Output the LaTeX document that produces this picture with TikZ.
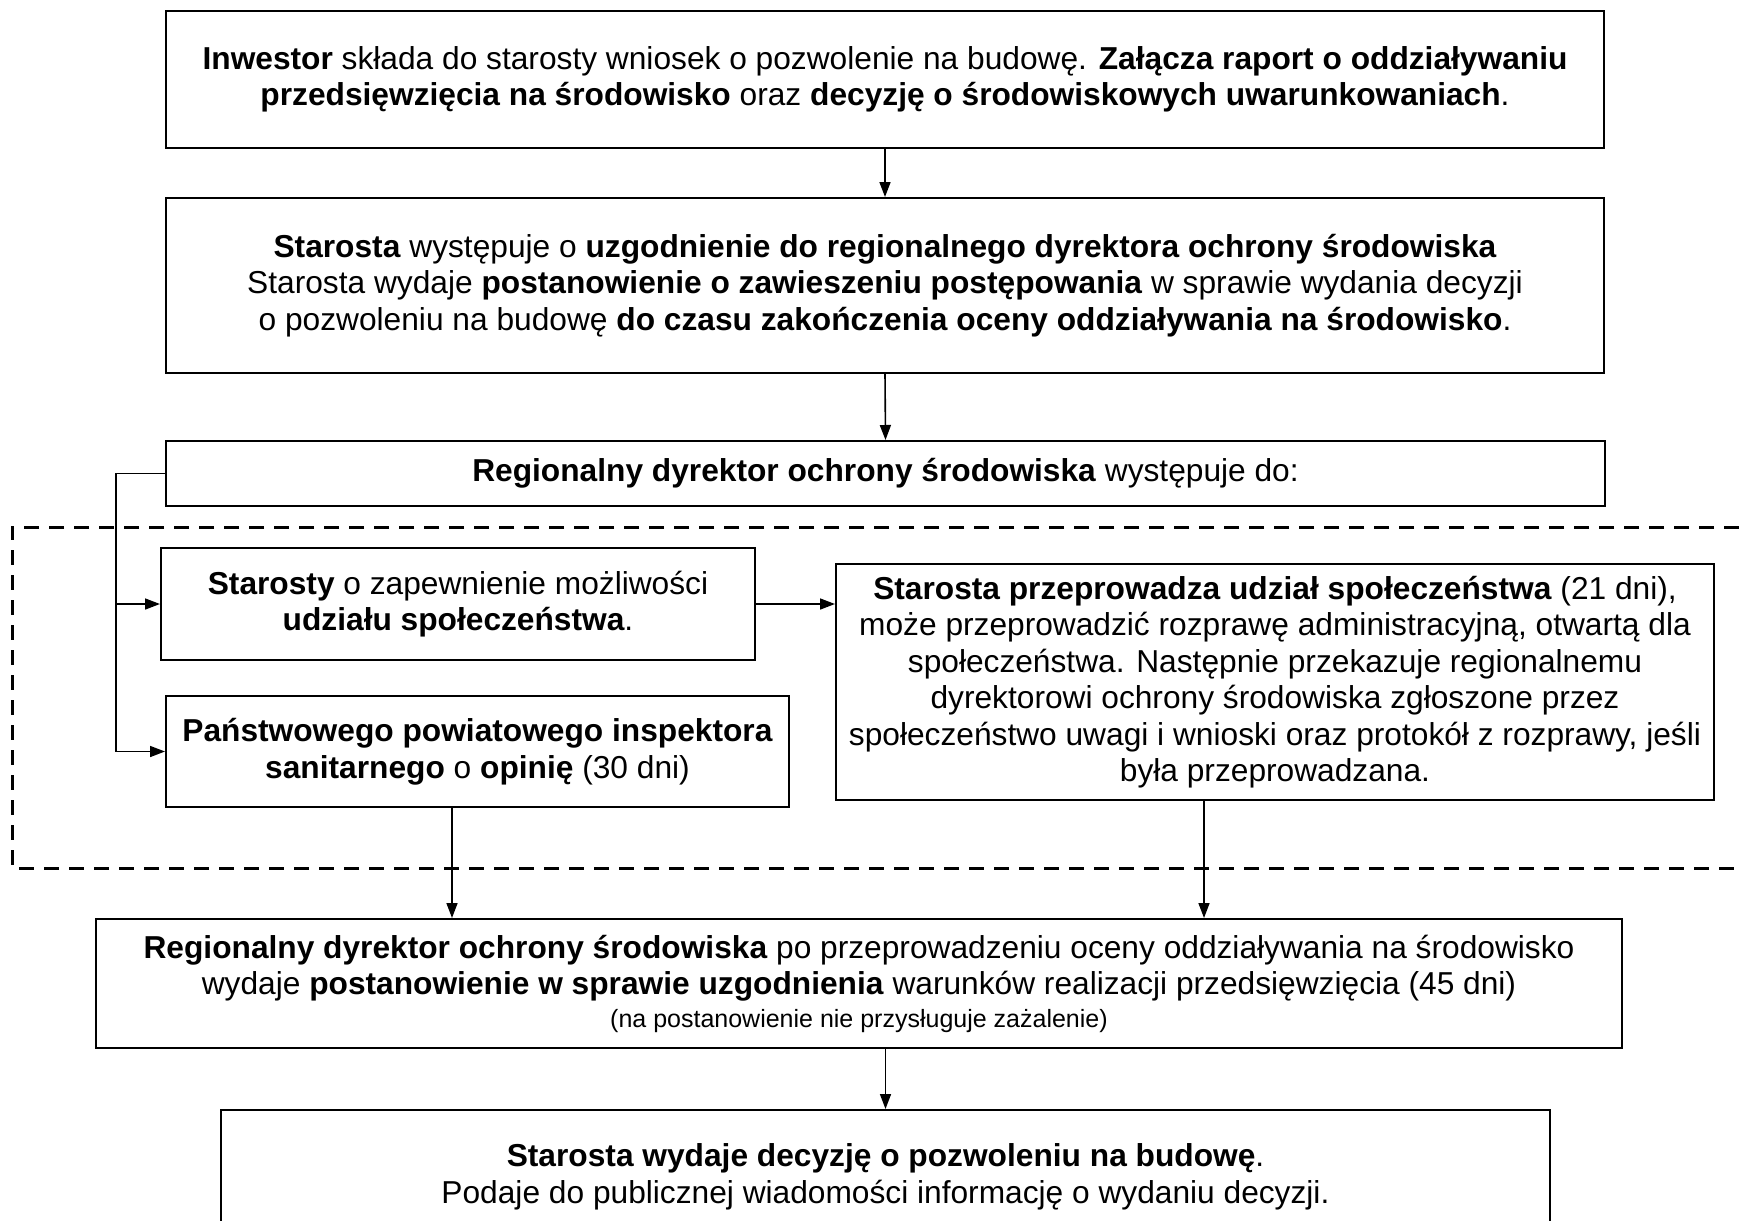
\documentclass[tikz,border=0pt]{standalone}
\usepackage{fontspec}
\setmainfont{Liberation Sans}
\usetikzlibrary{arrows.meta}
\begin{document}
\begin{tikzpicture}[x=1pt,y=-1pt,
  box/.style={draw,line width=2pt,inner sep=0pt,align=center,font=\fontsize{31.7}{36.5}\selectfont},
  line/.style={line width=1.6pt},
  conn/.style={line width=1.6pt,-{Triangle[length=15pt,width=11pt]}},
  frame/.style={line width=3pt,dash pattern=on 15pt off 10pt}
  ]
\useasboundingbox (0,0) rectangle (1739,1220);
\fill[white] (0,0) rectangle (1739,1220);

\node[box,minimum width=1438pt,minimum height=137pt] (b1) at (885,79.5)
 {\textbf{Inwestor} składa do starosty wniosek o pozwolenie na budowę. \textbf{Załącza raport o oddziaływaniu}\\
  \textbf{przedsięwzięcia na środowisko} oraz \textbf{decyzję o środowiskowych uwarunkowaniach}.};

\node[box,minimum width=1438pt,minimum height=175pt] (b2) at (885,285.5)
 {\textbf{Starosta} występuje o \textbf{uzgodnienie do regionalnego dyrektora ochrony środowiska}\\
  Starosta wydaje \textbf{postanowienie o zawieszeniu postępowania} w sprawie wydania decyzji\\
  o pozwoleniu na budowę \textbf{do czasu zakończenia oceny oddziaływania na środowisko}.};

\node[box,minimum width=1439pt,minimum height=65pt] (b3) at (885.5,473.5)
 {\textbf{Regionalny dyrektor ochrony środowiska} występuje do:};

\node[box,minimum width=594pt,minimum height=112pt] (b4) at (458,604)
 {\textbf{Starosty} o zapewnienie możliwości\\ \textbf{udziału społeczeństwa}.};

\node[box,minimum width=623pt,minimum height=111pt] (b5) at (477.5,751.5)
 {\textbf{Państwowego powiatowego inspektora}\\ \textbf{sanitarnego} o \textbf{opinię} (30 dni)};

\node[box,minimum width=878pt,minimum height=236pt] (b6) at (1275,682)
 {\textbf{Starosta przeprowadza udział społeczeństwa} (21 dni),\\
  może przeprowadzić rozprawę administracyjną, otwartą dla\\
  społeczeństwa. Następnie przekazuje regionalnemu\\
  dyrektorowi ochrony środowiska zgłoszone przez\\
  społeczeństwo uwagi i wnioski oraz protokół z rozprawy, jeśli\\
  była przeprowadzana.};

\node[box,minimum width=1526pt,minimum height=129pt] (b7) at (859,983.5)
 {\textbf{Regionalny dyrektor ochrony środowiska} po przeprowadzeniu oceny oddziaływania na środowisko\\
  wydaje \textbf{postanowienie w sprawie uzgodnienia} warunków realizacji przedsięwzięcia (45 dni)\\[-4pt]
  {\fontsize{25}{30}\selectfont (na postanowienie nie przysługuje zażalenie)}};

\node[box,minimum width=1329pt,minimum height=134pt] (b8) at (885.5,1177)
 {\textbf{Starosta wydaje decyzję o pozwoleniu na budowę}.\\
  Podaje do publicznej wiadomości informację o wydaniu decyzji.};

% dashed frame
\draw[frame] (1739,527) -- (12,527) -- (12,868) -- (1739,868);

% connectors
\coordinate (trunk) at (116,0);
\coordinate (xa) at (452,0);
\coordinate (xb) at (1204,0);
\draw[conn] (b1.south) -- (b2.north);
\draw[conn] (b2.south) -- (b3.north);
\draw[line] (b3.west) -- (b3.west -| trunk) -- (b5.west -| trunk);
\draw[conn] (b4.west -| trunk) -- (b4.west);
\draw[conn] (b5.west -| trunk) -- (b5.west);
\draw[conn] (b4.east) -- (b4.east -| b6.west);
\draw[conn] (b5.south -| xa) -- (b7.north -| xa);
\draw[conn] (b6.south -| xb) -- (b7.north -| xb);
\draw[conn] (b7.south -| b8.north) -- (b8.north);
\end{tikzpicture}
\end{document}
